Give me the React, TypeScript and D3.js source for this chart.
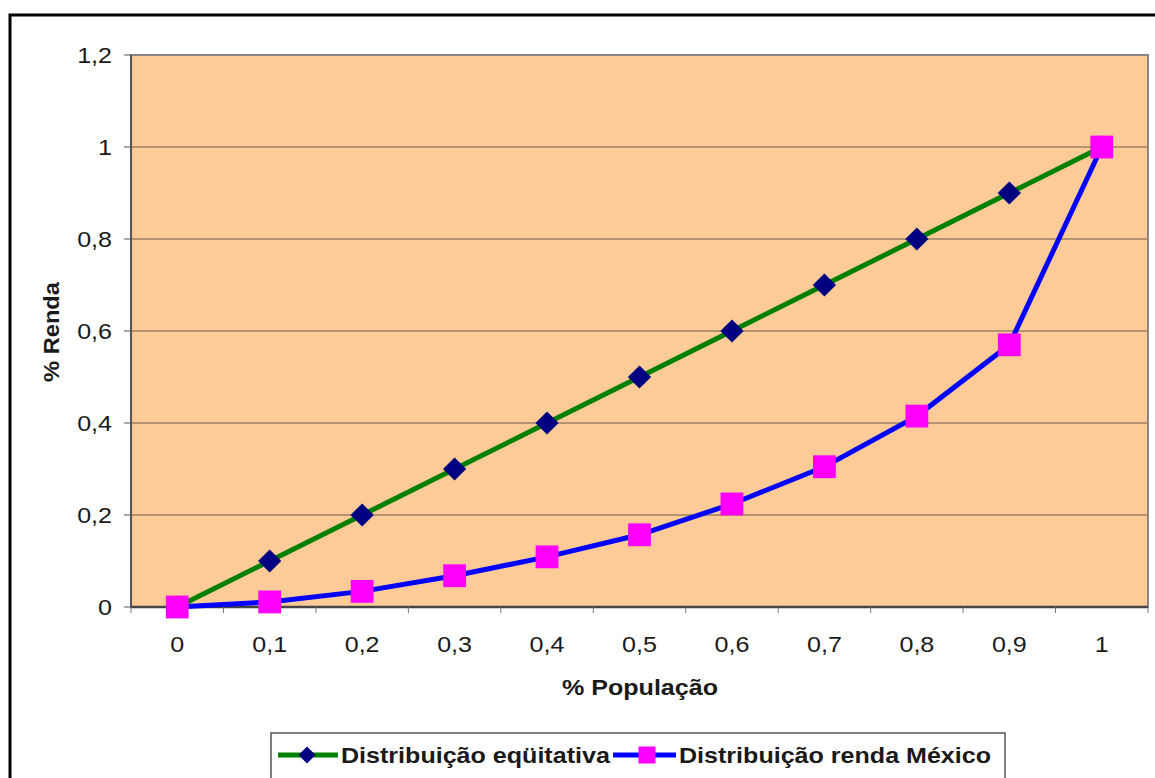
import React from 'react';
import { scaleBand, scaleLinear, line, symbol, symbolSquare } from 'd3';

// % Populacao categories
const categories = ['0', '0,1', '0,2', '0,3', '0,4', '0,5', '0,6', '0,7', '0,8', '0,9', '1'];
// Distribuicao equitativa
const equitativa = [0, 0.1, 0.2, 0.3, 0.4, 0.5, 0.6, 0.7, 0.8, 0.9, 1];
// Distribuicao renda Mexico
const mexico = [0, 0.011, 0.034, 0.068, 0.109, 0.157, 0.224, 0.305, 0.415, 0.57, 1];
const yTicks = [0, 0.2, 0.4, 0.6, 0.8, 1, 1.2];

const W = 1155;
const H = 778;
const plot = { left: 131, top: 55, right: 1148, bottom: 607 };
const font = 'Liberation Sans, Arial, sans-serif';
const SX = 1.14; // the picture is a bit wider than tall

const fmt = (v: number) => String(Math.round(v * 10) / 10).replace('.', ',');

// horizontal text, stretched like the source image
const T = ({ x, y, anchor = 'start', size, bold, children }: any) => (
  <text
    transform={`translate(${x},${y}) scale(${SX},1)`}
    textAnchor={anchor}
    fontSize={size}
    fontWeight={bold ? 'bold' : 'normal'}
    fill="#1a1a1a"
  >
    {children}
  </text>
);

const App = () => {
  const x = scaleBand<string>().domain(categories).range([plot.left, plot.right]);
  const y = scaleLinear().domain([0, 1.2]).range([plot.bottom, plot.top]);
  const cx = (i: number) => (x(categories[i]) as number) + x.bandwidth() / 2;

  const path = line<number>().x((_, i) => cx(i)).y((d) => y(d));
  const diamond = symbol().type(symbolSquare).size(270)() as string;
  const square = symbol().type(symbolSquare).size(520)() as string;
  const smallDiamond = symbol().type(symbolSquare).size(145)() as string;
  const smallSquare = symbol().type(symbolSquare).size(290)() as string;

  const bounds = [...categories.map((c) => x(c) as number), plot.right];
  const ly = 755; // legend row

  return (
    <svg width={W} height={H} style={{ position: 'absolute', left: 0, top: 0 }} fontFamily={font}>
      <rect width={W} height={H} fill="#fff" />
      {/* outer frame */}
      <rect x={10} y={15} width={W + 10} height={H + 10} fill="none" stroke="#000" strokeWidth={3} />

      {/* plot area */}
      <rect x={plot.left} y={plot.top} width={plot.right - plot.left} height={plot.bottom - plot.top} fill="#FDCB98" />
      {yTicks.filter((t) => t > 0 && t < 1.2).map((t) => (
        <line key={t} x1={plot.left} x2={plot.right} y1={y(t)} y2={y(t)} stroke="#6b5a4a" strokeWidth={1} />
      ))}
      <rect x={plot.left} y={plot.top} width={plot.right - plot.left} height={plot.bottom - plot.top} fill="none" stroke="#8a8580" strokeWidth={2} />
      <line x1={plot.left} x2={plot.left} y1={plot.top} y2={plot.bottom} stroke="#555" strokeWidth={2} />
      <line x1={plot.left} x2={plot.right} y1={plot.bottom} y2={plot.bottom} stroke="#444" strokeWidth={2.5} />

      {/* y axis */}
      {yTicks.map((t) => (
        <g key={t}>
          <line x1={plot.left - 7} x2={plot.left} y1={y(t)} y2={y(t)} stroke="#555" />
          <T x={112} y={y(t) + 8} anchor="end" size={22}>{fmt(t)}</T>
        </g>
      ))}
      <text
        transform={`translate(59,332) rotate(-90)`}
        textAnchor="middle"
        fontSize={22}
        fontWeight="bold"
        fill="#1a1a1a"
        textLength={100}
        lengthAdjust="spacingAndGlyphs"
      >
        % Renda
      </text>

      {/* x axis */}
      {bounds.map((b, i) => (
        <line key={i} x1={b} x2={b} y1={plot.bottom} y2={plot.bottom + 6} stroke="#777" />
      ))}
      {categories.map((c, i) => (
        <T key={c} x={cx(i)} y={652} anchor="middle" size={22}>{c}</T>
      ))}
      <T x={640} y={695} anchor="middle" size={22} bold>% População</T>

      {/* series */}
      <path d={path(equitativa) as string} fill="none" stroke="#008000" strokeWidth={5} />
      <path d={path(mexico) as string} fill="none" stroke="#0000FF" strokeWidth={5} />
      {equitativa.map((v, i) => (
        <path key={i} d={diamond} transform={`translate(${cx(i)},${y(v)}) rotate(45)`} fill="#000080" />
      ))}
      {mexico.map((v, i) => (
        <path key={i} d={square} transform={`translate(${cx(i)},${y(v)})`} fill="#FF00FF" />
      ))}

      {/* legend */}
      <rect x={271} y={733} width={734} height={60} fill="#fff" stroke="#555" strokeWidth={1.5} />
      <line x1={278} x2={338} y1={ly} y2={ly} stroke="#008000" strokeWidth={5} />
      <path d={smallDiamond} transform={`translate(307,${ly}) rotate(45)`} fill="#000080" />
      <T x={341} y={763} size={22} bold>Distribuição eqüitativa</T>
      <line x1={613} x2={676} y1={ly} y2={ly} stroke="#0000FF" strokeWidth={5} />
      <path d={smallSquare} transform={`translate(647,${ly})`} fill="#FF00FF" />
      <T x={679} y={763} size={22} bold>Distribuição renda México</T>
    </svg>
  );
};

export default App;
